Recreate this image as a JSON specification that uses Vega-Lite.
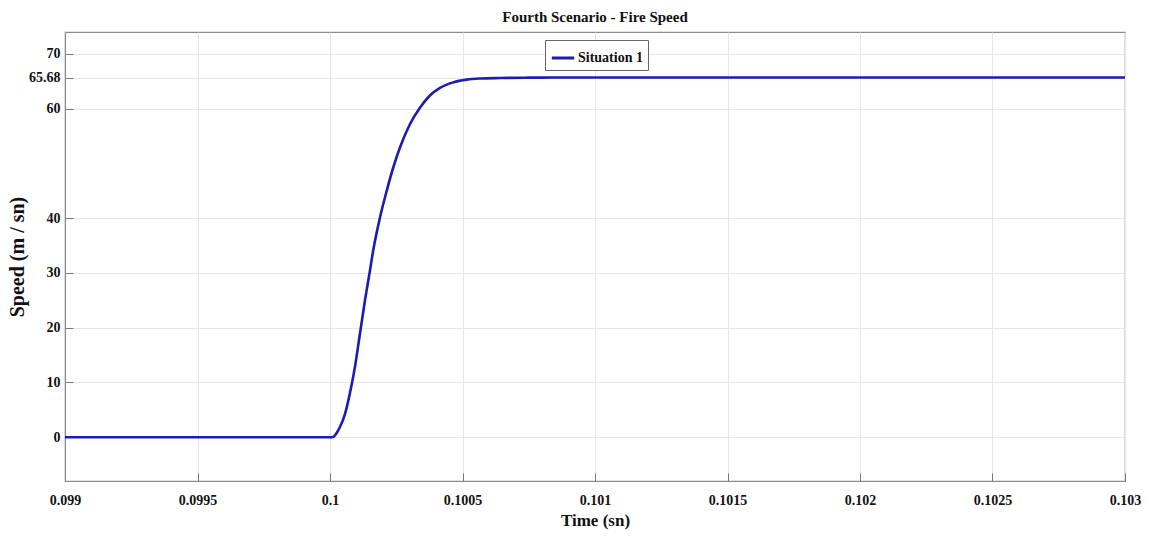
{
  "$schema": "https://vega.github.io/schema/vega-lite/v6.json",
  "width": 1060,
  "height": 449,
  "autosize": "none",
  "padding": {"left": 65, "top": 32, "right": 24, "bottom": 56},
  "background": "white",
  "title": {
    "text": "Fourth Scenario - Fire Speed",
    "font": "Liberation Serif",
    "fontSize": 15,
    "fontWeight": "bold",
    "color": "#111",
    "anchor": "middle",
    "offset": 7
  },
  "config": {
    "view": {"stroke": "#8a8a8a", "strokeWidth": 1.2},
    "axis": {
      "labelFont": "Liberation Serif",
      "labelFontSize": 14,
      "labelFontWeight": "bold",
      "labelColor": "#111",
      "titleFont": "Liberation Serif",
      "titleFontWeight": "bold",
      "titleColor": "#111",
      "gridColor": "#e6e6e6",
      "gridWidth": 1,
      "domainColor": "#8a8a8a",
      "tickColor": "#777",
      "tickSize": -8,
      "labelFlush": false
    },
    "legend": {
      "labelFont": "Liberation Serif",
      "labelFontSize": 14,
      "labelFontWeight": "bold",
      "labelColor": "#111"
    }
  },
  "data": {
    "values": [
      {"t": 0.099, "v": 0, "s": "Situation 1"},
      {"t": 0.0995, "v": 0, "s": "Situation 1"},
      {"t": 0.1, "v": 0, "s": "Situation 1"},
      {"t": 0.100012, "v": 0.05, "s": "Situation 1"},
      {"t": 0.100019, "v": 0.36, "s": "Situation 1"},
      {"t": 0.100028, "v": 1.0, "s": "Situation 1"},
      {"t": 0.100038, "v": 1.9, "s": "Situation 1"},
      {"t": 0.100057, "v": 4.3, "s": "Situation 1"},
      {"t": 0.100075, "v": 8.0, "s": "Situation 1"},
      {"t": 0.100094, "v": 12.8, "s": "Situation 1"},
      {"t": 0.100113, "v": 18.9, "s": "Situation 1"},
      {"t": 0.100132, "v": 25.0, "s": "Situation 1"},
      {"t": 0.100151, "v": 30.5, "s": "Situation 1"},
      {"t": 0.100163, "v": 34.1, "s": "Situation 1"},
      {"t": 0.100189, "v": 40.2, "s": "Situation 1"},
      {"t": 0.100214, "v": 45.0, "s": "Situation 1"},
      {"t": 0.100239, "v": 49.3, "s": "Situation 1"},
      {"t": 0.100264, "v": 52.9, "s": "Situation 1"},
      {"t": 0.100302, "v": 57.2, "s": "Situation 1"},
      {"t": 0.10034, "v": 60.2, "s": "Situation 1"},
      {"t": 0.100377, "v": 62.4, "s": "Situation 1"},
      {"t": 0.100415, "v": 63.8, "s": "Situation 1"},
      {"t": 0.100465, "v": 64.8, "s": "Situation 1"},
      {"t": 0.100516, "v": 65.3, "s": "Situation 1"},
      {"t": 0.100566, "v": 65.5, "s": "Situation 1"},
      {"t": 0.100642, "v": 65.6, "s": "Situation 1"},
      {"t": 0.10075, "v": 65.66, "s": "Situation 1"},
      {"t": 0.10085, "v": 65.68, "s": "Situation 1"},
      {"t": 0.1015, "v": 65.68, "s": "Situation 1"},
      {"t": 0.103, "v": 65.68, "s": "Situation 1"}
    ]
  },
  "mark": {"type": "line", "strokeWidth": 2.6, "interpolate": "monotone", "clip": true},
  "encoding": {
    "x": {
      "field": "t",
      "type": "quantitative",
      "title": "Time (sn)",
      "scale": {"domain": [0.099, 0.103], "nice": false, "zero": false},
      "axis": {
        "values": [0.099, 0.0995, 0.1, 0.1005, 0.101, 0.1015, 0.102, 0.1025, 0.103],
        "labelExpr": "format(datum.value, '.5~f')",
        "labelPadding": 20,
        "titleFontSize": 17,
        "titlePadding": 5
      }
    },
    "y": {
      "field": "v",
      "type": "quantitative",
      "title": "Speed (m / sn)",
      "scale": {"domain": [-8, 74], "nice": false, "zero": false},
      "axis": {
        "values": [0, 10, 20, 30, 40, 60, 65.68, 70],
        "labelExpr": "'' + datum.value",
        "labelPadding": 13,
        "titleFontSize": 20,
        "titlePadding": 1
      }
    },
    "color": {
      "field": "s",
      "type": "nominal",
      "title": null,
      "scale": {"range": ["#1c1cb4"]},
      "legend": {
        "orient": "none",
        "legendX": 480,
        "legendY": 8,
        "symbolType": "stroke",
        "symbolSize": 500,
        "symbolStrokeWidth": 3,
        "strokeColor": "#666",
        "fillColor": "white",
        "padding": 5,
        "labelOffset": 2
      }
    }
  }
}
